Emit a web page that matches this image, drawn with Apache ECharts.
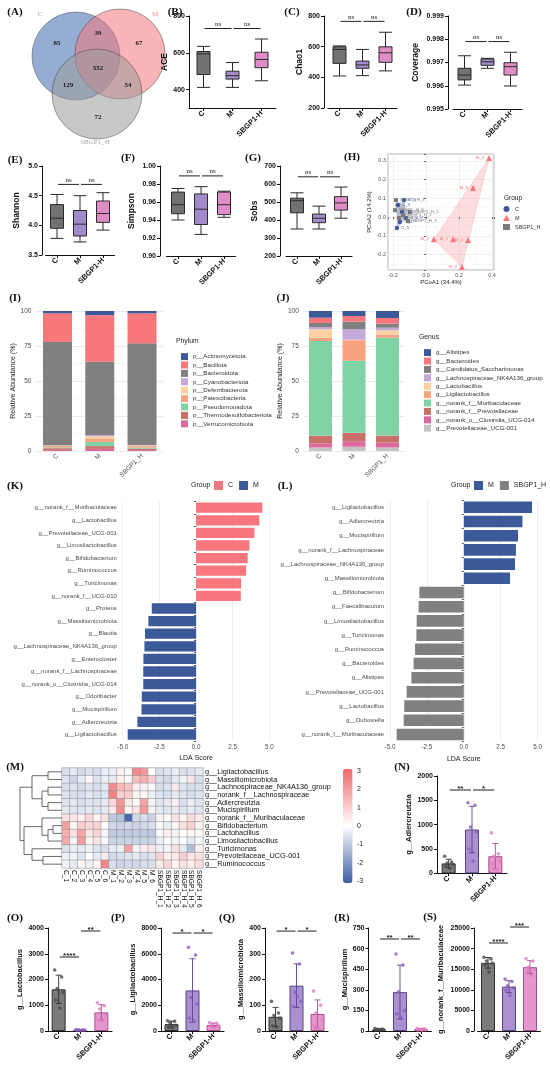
<!DOCTYPE html>
<html>
<head>
<meta charset="utf-8">
<script src="https://cdn.jsdelivr.net/npm/echarts@6/dist/echarts.min.js"></script>
<style>
  html, body { margin: 0; padding: 0; background: #fff; }
  #chart { width: 550px; height: 1065px; }
</style>
</head>
<body>
<div id="chart"></div>
<script>
// ---------- data ----------
const groups = ['C', 'M', 'SBGP1-H'];
const groupsU = ['C', 'M', 'SBGP1_H'];

// Venn: C only, C&M, M only, all three, C&S, M&S, S only
const vennCounts = [85, 39, 67, 552, 129, 54, 72];
const vennSets = ['C', 'M', 'SBGP1_H'];

// boxplots [min, Q1, median, Q3, max] for C, M, SBGP1-H
const aceBox = [[412, 482, 594, 607, 635], [412, 457, 476, 500, 547], [448, 519, 564, 603, 675]];
const chao1Box = [[409, 491, 582, 599, 605], [411, 459, 481, 506, 582], [442, 498, 560, 599, 694]];
const coverageBox = [[0.99603, 0.99625, 0.99646, 0.99675, 0.99729], [0.99675, 0.99688, 0.99703, 0.99715, 0.99718], [0.99599, 0.99646, 0.99682, 0.99699, 0.99744]];
const shannonBox = [[3.78, 3.95, 4.12, 4.35, 4.52], [3.72, 3.82, 4.02, 4.25, 4.50], [3.92, 4.05, 4.20, 4.41, 4.55]];
const simpsonBox = [[0.940, 0.947, 0.957, 0.971, 0.975], [0.924, 0.935, 0.952, 0.969, 0.977], [0.943, 0.946, 0.957, 0.971, 0.972]];
const sobsBox = [[350, 440, 507, 521, 551], [350, 385, 410, 433, 477], [410, 455, 495, 530, 583]];

// PCoA [PC1, PC2, sample]
const pcoaC = [[-0.17, 0.064, 'C_1'], [-0.145, 0.027, 'C_2'], [-0.158, -0.027, 'C_3'], [-0.121, -0.005, 'C_4'], [-0.176, -0.059, 'C_5'], [-0.133, 0.091, 'C_6']];
const pcoaM = [[0.164, -0.118, 'M_1'], [0.048, -0.118, 'M_2'], [0.218, -0.267, 'M_3'], [0.382, 0.316, 'M_4'], [0.255, -0.123, 'M_5'], [0.285, 0.155, 'M_6']];
const pcoaS = [[-0.164, -0.005, 'SBGP1_H_1'], [-0.139, 0.011, 'SBGP1_H_2'], [-0.109, -0.021, 'SBGP1_H_3'], [-0.182, 0.091, 'SBGP1_H_4'], [-0.097, 0.027, 'SBGP1_H_5'], [-0.188, 0.037, 'SBGP1_H_6']];

// relative abundance (%) per taxon: C, M, SBGP1_H
const phylumNames = ['p__Actinomycetota', 'p__Bacillota', 'p__Bacteroidota', 'p__Cyanobacteriota', 'p__Deferribacterota', 'p__Patescibacteria', 'p__Pseudomonadota', 'p__Thermodesulfobacteriota', 'p__Verrucomicrobiota'];
const phylumAbund = [[1.7, 3.0, 1.7], [20.4, 33.2, 21.4], [73.8, 52.5, 72.6], [0.3, 0.8, 0.3], [0.2, 1.5, 0.3], [1.0, 2.5, 1.2], [0.6, 3.0, 0.8], [1.2, 2.0, 1.0], [0.8, 1.5, 0.7]];
const genusNames = ['g__Alistipes', 'g__Bacteroides', 'g__Candidatus_Saccharimonas', 'g__Lachnospiraceae_NK4A136_group', 'g__Lactobacillus', 'g__Ligilactobacillus', 'g__norank_f__Muribaculaceae', 'g__norank_f__Prevotellaceae', 'g__norank_o__Clostridia_UCG-014', 'g__Prevotellaceae_UCG-001'];
const genusAbund = [[4.8, 3.6, 5.0], [3.8, 4.0, 4.0], [2.8, 5.5, 2.9], [1.7, 7.4, 1.9], [5.9, 0.3, 3.1], [2.4, 14.7, 2.1], [67.6, 51.5, 70.0], [5.5, 6.0, 5.0], [3.0, 4.0, 3.5], [2.5, 3.0, 2.5]];

// LEfSe
const ldaKNames = ['g__norank_f__Muribaculaceae', 'g__Lactobacillus', 'g__Prevotellaceae_UCG-001', 'g__Limosilactobacillus', 'g__Bifidobacterium', 'g__Ruminococcus', 'g__Turicimonas', 'g__norank_f__UCG-010', 'g__Proteus', 'g__Massiliomicrobiota', 'g__Blautia', 'g__Lachnospiraceae_NK4A136_group', 'g__Enterocloster', 'g__norank_f__Lachnospiraceae', 'g__norank_o__Clostridia_UCG-014', 'g__Odoribacter', 'g__Mucispirillum', 'g__Adlercreutzia', 'g__Ligilactobacillus'];
const ldaKScores = [4.52, 4.32, 3.98, 3.64, 3.52, 3.41, 3.07, 3.05, -3.02, -3.25, -3.48, -3.52, -3.59, -3.6, -3.6, -3.7, -3.72, -4.0, -4.66];
const ldaLNames = ['g__Ligilactobacillus', 'g__Adlercreutzia', 'g__Mucispirillum', 'g__norank_f__Lachnospiraceae', 'g__Lachnospiraceae_NK4A136_group', 'g__Massiliomicrobiota', 'g__Bifidobacterium', 'g__Faecalibaculum', 'g__Limosilactobacillus', 'g__Turicimonas', 'g__Ruminococcus', 'g__Bacteroides', 'g__Alistipes', 'g__Prevotellaceae_UCG-001', 'g__Lactobacillus', 'g__Dubosiella', 'g__norank_f__Muribaculaceae'];
const ldaLScores = [4.62, 3.97, 3.67, 3.53, 3.47, 3.13, -3.01, -3.06, -3.19, -3.21, -3.3, -3.4, -3.55, -3.87, -4.03, -4.07, -4.55];

// heatmap (z-score)
const heatRows = ['g__Ligilactobacillus', 'g__Massiliomicrobiota', 'g__Lachnospiraceae_NK4A136_group', 'g__norank_f__Lachnospiraceae', 'g__Adlercreutzia', 'g__Mucispirillum', 'g__norank_f__Muribaculaceae', 'g__Bifidobacterium', 'g__Lactobacillus', 'g__Limosilactobacillus', 'g__Turicimonas', 'g__Prevotellaceae_UCG-001', 'g__Ruminococcus'];
const heatCols = ['C_1', 'C_2', 'C_3', 'C_4', 'C_5', 'C_6', 'M_1', 'M_2', 'M_3', 'M_4', 'M_5', 'M_6', 'SBGP1_H_1', 'SBGP1_H_2', 'SBGP1_H_3', 'SBGP1_H_4', 'SBGP1_H_5', 'SBGP1_H_6'];
const heatZ = [
  [-0.6, -0.4, -0.7, -0.5, -0.6, -0.3, -0.3, 0.3, -0.1, 2.3, 2.0, 0.0, -0.6, -0.5, -0.3, -0.6, -0.5, -0.4],
  [-0.5, -0.8, -0.4, 0.1, -0.5, -0.3, -0.4, 0.3, -0.1, 1.3, 1.6, 1.0, -0.6, -0.7, -0.4, -0.2, 0.5, -0.6],
  [-0.6, -0.5, -0.7, -0.5, -0.6, -0.4, 2.3, 1.4, 1.2, 0.3, -0.2, -0.1, -0.6, -0.5, 0.4, -0.5, -0.6, -0.6],
  [-0.5, -0.6, -0.6, -0.4, -0.6, -0.5, 2.5, 0.9, 1.0, 0.2, 0.1, -0.3, -0.5, -0.6, -0.4, -0.5, -0.6, -0.5],
  [-0.5, -0.4, -0.6, -0.5, -0.5, -0.4, 0.8, 2.1, 0.4, 0.1, 1.8, -0.2, -0.5, -0.4, 0.3, -0.6, -0.3, -0.5],
  [-0.4, -0.5, -0.5, -0.4, -0.5, -0.4, 0.4, 2.3, 0.1, 0.6, 2.0, -0.2, -0.4, -0.5, -0.4, -0.5, -0.4, -0.5],
  [0.6, 0.5, 0.3, 0.8, 0.2, 0.6, -1.0, -1.1, -2.8, -0.7, -0.6, -0.8, 0.3, 0.1, 0.6, 0.2, 0.7, 0.4],
  [1.9, 0.2, 1.0, 0.8, 0.9, 0.0, -0.7, -0.8, -0.7, -0.8, -0.7, -0.6, 0.1, -0.3, 0.2, 0.6, 0.9, 0.2],
  [1.6, 0.6, 1.8, 0.5, 0.9, 0.2, -1.0, -1.0, -1.0, -1.0, -1.0, -1.0, -0.1, 0.3, -0.2, 0.0, 0.2, 0.1],
  [1.7, -0.2, 2.0, 0.2, 0.5, -0.1, -0.8, -0.8, -0.8, -0.8, -0.8, -0.8, -0.3, 0.1, -0.2, 0.0, -0.4, -0.1],
  [-0.5, -0.3, -0.4, -0.2, -0.5, -0.6, -0.4, -0.3, 1.9, -0.2, 0.3, 0.5, -0.3, -0.2, 0.6, -0.4, -1.2, 0.3],
  [-0.3, -0.2, -0.5, 0.0, -0.4, 0.4, -0.7, -0.6, -0.5, -0.4, -0.6, -0.5, 0.9, 0.3, 0.4, 1.0, 0.5, 0.6],
  [-0.2, -0.4, 0.1, -0.3, 0.1, 2.4, -0.6, -0.8, -0.7, -0.7, -0.6, -0.6, 0.4, 0.8, 0.2, 0.6, 0.3, 0.7]
];
// row clustering [height, left, right], leaves are row indexes
const dendroTree = [42, [30, [14, 0, 1], [20, [14, 2, 3], [14, 4, 5]]], [38, [20, 6, [14, [9, 7, 8], 9]], [30, 10, [19, 11, 12]]]];
const colorTicks = [3, 2, 1, 0, -1, -2, -3];

// per-sample abundances, C / M / SBGP1-H
const adlerPts = [[350, 230, 210, 180, 150, 100], [1450, 1400, 950, 850, 500, 250], [830, 400, 350, 250, 200, 80]];
const lactoPts = [[2370, 2100, 1650, 1500, 1200, 890], [60, 50, 45, 35, 30, 20], [1095, 980, 850, 600, 420, 400]];
const ligiPts = [[800, 750, 650, 450, 300, 250], [6500, 5900, 2600, 2100, 1000, 800], [650, 600, 500, 450, 350, 250]];
const massPts = [[115, 70, 60, 50, 20, 15], [303, 260, 150, 115, 95, 133], [155, 100, 70, 40, 20, 11]];
const muciPts = [[18, 15, 12, 10, 8, 5], [561, 480, 285, 150, 125, 97], [20, 16, 13, 10, 8, 6]];
const muribPts = [[17900, 17500, 17000, 16500, 16000, 14300], [12600, 12000, 11000, 10500, 9900, 8600], [17600, 17000, 15500, 15000, 14500, 13400]];

// ---------- styles ----------
const SANS = '"Liberation Sans", Arial, Helvetica, sans-serif';
const SERIF = '"Liberation Serif", "Times New Roman", serif';
const boxFill = ['#727272', '#A28ACB', '#E08DC7'];
const barFill = ['#7a7a7a', '#A990D0', '#E597CD'];
const barEdge = ['#2e2e2e', '#5b4286', '#a64f8e'];
const dotFill = ['#4a4a4a', '#8a5dbf', '#e37cc4'];
const jitter = [-4, 3, -1.5, 4.5, -3, 1];
const phylumColors = ['#3C5A9A', '#F7777B', '#808080', '#C3A8D8', '#FDD2A0', '#F9A27F', '#7FD3A5', '#C9706A', '#DB6B9C'];
const genusColors = ['#3C5A9A', '#F7777B', '#808080', '#C3A8D8', '#FDD2A0', '#F9A27F', '#7FD3A5', '#C9706A', '#DB6B9C', '#C4C4C4'];

const chart = echarts.init(document.getElementById('chart'), null, { renderer: 'canvas' });
const option = {
  animation: false, backgroundColor: '#ffffff', textStyle: { fontFamily: SANS },
  grid: [], xAxis: [], yAxis: [], series: [], legend: [], graphic: [], visualMap: []
};

function addGrid(l, t, w, h, extra) {
  option.grid.push(Object.assign({ left: l, top: t, width: w, height: h }, extra || {}));
  return option.grid.length - 1;
}

// GraphPad-like axes
function gpXAxis(gi) {
  return {
    gridIndex: gi, type: 'category', data: groups,
    axisLine: { show: true, lineStyle: { color: '#111', width: 1 } },
    axisTick: { show: true, alignWithLabel: true, length: 3, lineStyle: { color: '#111' } },
    axisLabel: { interval: 0, rotate: 45, fontSize: 7.5, fontWeight: 'bold', color: '#111', margin: 4, fontFamily: SANS },
    splitLine: { show: false }
  };
}
function gpYAxis(gi, p) {
  const ax = {
    gridIndex: gi, type: 'value', min: p.min, max: p.max, offset: p.offset || 0,
    name: p.name, nameLocation: 'middle', nameGap: p.nameGap,
    nameTextStyle: { fontSize: p.nameSize || 8.5, fontWeight: 'bold', color: '#111', fontFamily: SANS },
    axisLine: { show: true, lineStyle: { color: '#111', width: 1 } },
    axisTick: { show: true, length: 3, lineStyle: { color: '#111' } },
    axisLabel: { fontSize: 7, fontWeight: 'bold', color: '#111', margin: 4, fontFamily: SANS, formatter: p.fmt || (v => String(v)) },
    splitLine: { show: false }
  };
  if (p.interval) ax.interval = p.interval;
  if (p.ticks) { ax.axisLabel.customValues = p.ticks; ax.axisTick.customValues = p.ticks; }
  return ax;
}

function addBrackets(gi, list) {
  option.series.push({
    type: 'custom', xAxisIndex: gi, yAxisIndex: gi, z: 6, clip: false, silent: true,
    data: list.map(b => [b[0], b[1], b[2]]), encode: { x: [0, 1], y: 2 },
    renderItem: (params, api) => {
      const b = list[params.dataIndex];
      const p1 = api.coord([b[0], b[2]]), p2 = api.coord([b[1], b[2]]);
      const ns = b[3] === 'ns';
      return {
        type: 'group', children: [
          { type: 'line', shape: { x1: p1[0] + 1, y1: p1[1], x2: p2[0] - 1, y2: p2[1] }, style: { stroke: '#222', lineWidth: 1 } },
          { type: 'text', x: (p1[0] + p2[0]) / 2, y: p1[1] + (ns ? -1 : 2.5),
            style: { text: b[3], textAlign: 'center', textVerticalAlign: 'bottom', fontSize: ns ? 7 : 8, fontWeight: ns ? 'normal' : 'bold', fontFamily: ns ? SERIF : SANS, fill: '#222' } }
        ]
      };
    }
  });
}

function boxPanel(p) {
  const gi = addGrid(p.left, p.top, p.width, p.height);
  option.xAxis.push(gpXAxis(gi));
  option.yAxis.push(gpYAxis(gi, p));
  option.series.push({
    type: 'boxplot', xAxisIndex: gi, yAxisIndex: gi, boxWidth: [13, 13], z: 3,
    data: p.data.map((d, i) => ({ value: d, itemStyle: { color: boxFill[i], borderColor: '#2a2a2a', borderWidth: 1 } }))
  });
  addBrackets(gi, p.brackets);
}

function barPanel(p) {
  const gi = addGrid(p.left, p.top, p.width, p.height);
  option.xAxis.push(gpXAxis(gi));
  option.yAxis.push(gpYAxis(gi, p));
  const means = p.pts.map(a => a.reduce((s, v) => s + v, 0) / a.length);
  const sds = p.pts.map((a, i) => Math.sqrt(a.reduce((s, v) => s + (v - means[i]) ** 2, 0) / (a.length - 1)));
  option.series.push({
    type: 'bar', xAxisIndex: gi, yAxisIndex: gi, barWidth: 14, z: 2,
    data: means.map((m, i) => ({ value: m, itemStyle: { color: barFill[i], borderColor: barEdge[i], borderWidth: 1 } }))
  });
  option.series.push({
    type: 'custom', xAxisIndex: gi, yAxisIndex: gi, z: 4, silent: true,
    data: means.map((m, i) => [i, m]),
    renderItem: (params, api) => {
      const i = params.dataIndex;
      const top = api.coord([i, means[i] + sds[i]]);
      const bot = api.coord([i, Math.max(means[i] - sds[i], p.min)]);
      const cx = top[0], st = { stroke: barEdge[i], lineWidth: 0.9 };
      return {
        type: 'group', children: [
          { type: 'line', shape: { x1: cx, y1: top[1], x2: cx, y2: bot[1] }, style: st },
          { type: 'line', shape: { x1: cx - 3, y1: top[1], x2: cx + 3, y2: top[1] }, style: st },
          { type: 'line', shape: { x1: cx - 3, y1: bot[1], x2: cx + 3, y2: bot[1] }, style: st }
        ]
      };
    }
  });
  const pts = [];
  p.pts.forEach((arr, g) => arr.forEach((v, k) => pts.push({ value: [g, v], symbolOffset: [jitter[k], 0], itemStyle: { color: dotFill[g] } })));
  option.series.push({ type: 'scatter', xAxisIndex: gi, yAxisIndex: gi, symbolSize: 3.6, z: 5, data: pts });
  addBrackets(gi, p.brackets);
}

function stackPanel(p) {
  const gi = addGrid(p.left, 311, p.width, 140);
  option.xAxis.push({
    gridIndex: gi, type: 'category', data: groupsU,
    axisLine: { show: false }, axisTick: { show: false },
    axisLabel: { interval: 0, rotate: 45, fontSize: 6.5, color: '#4d4d4d', margin: 4 }
  });
  option.yAxis.push({
    gridIndex: gi, type: 'value', min: 0, max: 100, interval: 25,
    name: 'Relative Abundance (%)', nameLocation: 'middle', nameGap: 17,
    nameTextStyle: { fontSize: 7, color: '#222' },
    axisLine: { show: false }, axisTick: { show: false },
    axisLabel: { fontSize: 6.5, color: '#4d4d4d', margin: 5 },
    splitLine: { lineStyle: { color: '#e4e4e4', width: 0.8 } },
    minorTick: { show: true, splitNumber: 2, length: 0 },
    minorSplitLine: { show: true, lineStyle: { color: '#f2f2f2', width: 0.6 } }
  });
  for (let k = p.names.length - 1; k >= 0; k--) {
    option.series.push({
      type: 'bar', name: p.tag + p.names[k], stack: p.tag, xAxisIndex: gi, yAxisIndex: gi,
      barWidth: p.barWidth, data: p.values[k], itemStyle: { color: p.colors[k] }
    });
  }
  option.legend.push({
    left: p.legendLeft, top: p.legendTop, orient: 'vertical', selectedMode: false,
    itemWidth: 7, itemHeight: 7, itemGap: 1.2, icon: 'rect',
    textStyle: { fontSize: 6.2, color: '#333', lineHeight: 7.2 },
    data: p.names.map(n => p.tag + n), formatter: n => n.slice(p.tag.length)
  });
  option.graphic.push({ type: 'text', left: p.legendLeft, top: p.legendTop - 10, style: { text: p.title, fontSize: 6.8, fill: '#222', fontFamily: SANS } });
}

function ldaPanel(p) {
  const gi = addGrid(p.left, p.top, p.width, p.height);
  option.xAxis.push({
    gridIndex: gi, type: 'value', min: -5.2, max: 5.2,
    name: 'LDA Score', nameLocation: 'middle', nameGap: 14, nameTextStyle: { fontSize: 7, color: '#222' },
    axisLine: { show: false }, axisTick: { show: false, customValues: [-5, -2.5, 0, 2.5, 5] },
    axisLabel: { fontSize: 6.3, color: '#4d4d4d', margin: 3, formatter: v => v.toFixed(1), customValues: [-5, -2.5, 0, 2.5, 5] },
    splitLine: { show: true, lineStyle: { color: '#ebebeb', width: 0.8 } }
  });
  option.yAxis.push({
    gridIndex: gi, type: 'category', data: p.names, inverse: true,
    axisLine: { show: false }, axisTick: { show: true, length: 2, lineStyle: { color: '#555' } },
    axisLabel: { interval: 0, fontSize: 6, color: '#4d4d4d', margin: 3 }
  });
  const g = p.groups;
  option.series.push({ type: 'bar', name: p.tag + g[0], stack: p.tag, xAxisIndex: gi, yAxisIndex: gi, barCategoryGap: '18%',
    data: p.scores.map(s => s > 0 ? s : '-'), itemStyle: { color: p.colors[0] } });
  option.series.push({ type: 'bar', name: p.tag + g[1], stack: p.tag, xAxisIndex: gi, yAxisIndex: gi, barCategoryGap: '18%',
    data: p.scores.map(s => s < 0 ? s : '-'), itemStyle: { color: p.colors[1] } });
  option.legend.push({
    left: p.legendLeft, top: 481, width: 90, padding: 0, orient: 'horizontal', selectedMode: false,
    itemWidth: 9, itemHeight: 9, itemGap: 6, icon: 'rect', textStyle: { fontSize: 7, color: '#222' },
    data: g.map(n => p.tag + n), formatter: n => n.slice(p.tag.length)
  });
  option.graphic.push({ type: 'text', left: p.legendLeft - 23, top: 482, style: { text: 'Group', fontSize: 7, fill: '#222', fontFamily: SANS } });
}

// ---------- (A) Venn ----------
const vennCircles = [[76, 56, 44, '#3F6AAE'], [120, 54, 45, '#F4777C'], [97, 94, 45, '#9A9A9A']];
vennCircles.forEach(c => option.graphic.push({
  type: 'circle', shape: { cx: c[0], cy: c[1], r: c[2] },
  style: { fill: c[3], opacity: 0.55, stroke: '#333', lineWidth: 0.8 }
}));
const vennTextPos = [[57, 43], [98, 33], [139, 43], [98, 68], [68, 85], [128, 85], [98, 117]];
vennCounts.forEach((n, i) => option.graphic.push({
  type: 'text', x: vennTextPos[i][0], y: vennTextPos[i][1],
  style: { text: String(n), textAlign: 'center', textVerticalAlign: 'middle', fontSize: 7, fontWeight: 'bold', fontFamily: SERIF, fill: '#1a1a1a' }
}));
[[40, 14, '#7E9DCC'], [155, 14, '#F28B8E'], [95, 142, '#A8A8A8']].forEach((s, i) => option.graphic.push({
  type: 'text', x: s[0], y: s[1], style: { text: vennSets[i], textAlign: 'center', textVerticalAlign: 'middle', fontSize: 7, fontFamily: SERIF, fill: s[2] }
}));

// ---------- (B)-(G) alpha diversity ----------
boxPanel({ left: 189, top: 16, width: 87, height: 92, min: 300, max: 800, ticks: [400, 600, 800], name: 'ACE', nameGap: 19, data: aceBox, brackets: [[0, 1, 732, 'ns'], [1, 2, 732, 'ns']] });
boxPanel({ left: 328, top: 16, width: 69, height: 92, min: 200, max: 800, interval: 200, offset: 4, name: 'Chao1', nameGap: 19, data: chao1Box, brackets: [[0, 1, 765, 'ns'], [1, 2, 765, 'ns']] });
boxPanel({ left: 453, top: 16, width: 69, height: 93, min: 0.995, max: 0.999, interval: 0.001, offset: 5, fmt: v => v.toFixed(3), name: 'Coverage', nameGap: 28, data: coverageBox, brackets: [[0, 1, 0.9979, 'ns'], [1, 2, 0.9979, 'ns']] });
boxPanel({ left: 45.5, top: 166, width: 69, height: 89, min: 3.5, max: 5.0, interval: 0.5, offset: 3.5, fmt: v => v.toFixed(1), name: 'Shannon', nameGap: 21, data: shannonBox, brackets: [[0, 1, 4.69, 'ns'], [1, 2, 4.69, 'ns']] });
boxPanel({ left: 166.5, top: 166, width: 69, height: 90, min: 0.90, max: 1.00, interval: 0.02, offset: 6.5, fmt: v => v.toFixed(2), name: 'Simpson', nameGap: 24, data: simpsonBox, brackets: [[0, 1, 0.989, 'ns'], [1, 2, 0.989, 'ns']] });
boxPanel({ left: 286, top: 166, width: 66, height: 90, min: 200, max: 700, interval: 100, offset: 6, name: 'Sobs', nameGap: 21, data: sobsBox, brackets: [[0, 1, 640, 'ns'], [1, 2, 640, 'ns']] });

// ---------- (H) PCoA ----------
{
  const gi = addGrid(388, 154, 106, 116, { show: true, borderColor: '#9a9a9a', borderWidth: 0.8 });
  const axCommon = {
    gridIndex: gi, type: 'value', axisLine: { show: false },
    axisTick: { show: true, length: 2, lineStyle: { color: '#666' } },
    axisLabel: { fontSize: 5.5, color: '#555', margin: 2, showMinLabel: false, showMaxLabel: false, formatter: v => v.toFixed(1) },
    splitLine: { lineStyle: { color: '#e6e6e6', width: 0.6 } },
    minorTick: { show: true, splitNumber: 2, length: 0 },
    minorSplitLine: { show: true, lineStyle: { color: '#f3f3f3', width: 0.5 } },
    nameLocation: 'middle', nameTextStyle: { fontSize: 6, color: '#222' }
  };
  option.xAxis.push(Object.assign({}, axCommon, { min: -0.23, max: 0.412, splitNumber: 3, name: 'PCoA1 (34.4%)', nameGap: 9 }));
  option.yAxis.push(Object.assign({}, axCommon, { min: -0.283, max: 0.337, splitNumber: 5, name: 'PCoA2 (14.2%)', nameGap: 14 }));
  const hull = pts => {
    const p = pts.map(d => [d[0], d[1]]).sort((a, b) => a[0] - b[0] || a[1] - b[1]);
    const cross = (o, a, b) => (a[0] - o[0]) * (b[1] - o[1]) - (a[1] - o[1]) * (b[0] - o[0]);
    const lo = [], up = [];
    p.forEach(q => { while (lo.length >= 2 && cross(lo[lo.length - 2], lo[lo.length - 1], q) <= 0) lo.pop(); lo.push(q); });
    p.slice().reverse().forEach(q => { while (up.length >= 2 && cross(up[up.length - 2], up[up.length - 1], q) <= 0) up.pop(); up.push(q); });
    return lo.slice(0, -1).concat(up.slice(0, -1));
  };
  const groupsH = [[pcoaC, '#3C5A9A', 'circle', 4.5, 'right'], [pcoaM, '#F7777B', 'triangle', 6, 'left'], [pcoaS, '#7a7a7a', 'rect', 4, 'right']];
  groupsH.forEach((g, k) => {
    const h = hull(g[0]);
    option.series.push({
      type: 'custom', name: 'hull' + k, xAxisIndex: gi, yAxisIndex: gi, z: 1, silent: true,
      data: [[h[0][0], h[0][1]]],
      renderItem: (params, api) => ({
        type: 'polygon', shape: { points: h.map(q => api.coord(q)) },
        style: { fill: g[1], opacity: 0.25, stroke: g[1], lineWidth: 0.8 }
      })
    });
  });
  groupsH.forEach((g, k) => {
    option.series.push({
      type: 'scatter', name: 'H:' + groupsU[k], xAxisIndex: gi, yAxisIndex: gi, z: 3,
      symbol: g[2], symbolSize: g[3], itemStyle: { color: g[1], opacity: 1 },
      data: g[0].map(d => ({ value: [d[0], d[1]], name: d[2] })),
      label: { show: true, formatter: '{b}', position: g[4], distance: 2, fontSize: 4.3, color: g[1] }
    });
  });
  option.legend.push({
    left: 503, top: 206, padding: 0, orient: 'vertical', selectedMode: false, itemWidth: 7, itemHeight: 6, itemGap: 3,
    textStyle: { fontSize: 5.5, color: '#333' }, data: groupsU.map(n => 'H:' + n), formatter: n => n.slice(2)
  });
  option.graphic.push({ type: 'text', left: 504, top: 195, style: { text: 'Group', fontSize: 6.5, fill: '#222', fontFamily: SANS } });
}

// ---------- (I)/(J) composition ----------
stackPanel({ tag: 'I:', left: 36.4, width: 126.75, barWidth: 29, names: phylumNames, values: phylumAbund, colors: phylumColors, legendLeft: 176, legendTop: 348, title: 'Phylum' });
stackPanel({ tag: 'J:', left: 303.75, width: 100.5, barWidth: 23, names: genusNames, values: genusAbund, colors: genusColors, legendLeft: 419, legendTop: 344, title: 'Genus' });

// ---------- (K)/(L) LEfSe ----------
ldaPanel({ tag: 'K:', left: 119.8, top: 501.4, width: 152.5, height: 239.4, names: ldaKNames, scores: ldaKScores, groups: ['C', 'M'], colors: ['#F8767D', '#3C5A9A'], legendLeft: 214 });
ldaPanel({ tag: 'L:', left: 387, top: 500.2, width: 153.6, height: 241.4, names: ldaLNames, scores: ldaLScores, groups: ['M', 'SBGP1_H'], colors: ['#3C5A9A', '#808080'], legendLeft: 474 });

// ---------- (M) heatmap ----------
{
  const gi = addGrid(62, 768, 141, 100);
  option.xAxis.push({
    gridIndex: gi, type: 'category', data: heatCols, position: 'bottom',
    axisLine: { show: false }, axisTick: { show: false },
    axisLabel: { interval: 0, rotate: -90, fontSize: 6.6, color: '#111', margin: 2 }
  });
  option.yAxis.push({
    gridIndex: gi, type: 'category', data: heatRows, position: 'right', inverse: true,
    axisLine: { show: false }, axisTick: { show: false },
    axisLabel: { interval: 0, fontSize: 7.3, color: '#111', margin: 2 }
  });
  const data = [];
  heatZ.forEach((row, r) => row.forEach((z, c) => data.push([c, r, z])));
  option.series.push({
    type: 'heatmap', xAxisIndex: gi, yAxisIndex: gi, data: data,
    itemStyle: { borderColor: '#8c8c8c', borderWidth: 0.5 }
  });
  option.visualMap.push({
    type: 'continuous', min: -3, max: 3, seriesIndex: option.series.length - 1, dimension: 2,
    inRange: { color: ['#3B5EA6', '#ffffff', '#F0686B'] },
    left: 343, top: 769, itemWidth: 9.5, itemHeight: 114, padding: 0,
    calculable: false, hoverLink: false, text: null, showLabel: false, textStyle: { fontSize: 0 }
  });
  colorTicks.forEach(v => option.graphic.push({
    type: 'text', x: 357, y: 826 - v * 18.3,
    style: { text: String(v), textVerticalAlign: 'middle', fontSize: 7, fill: '#222', fontFamily: SANS }
  }));

  // dendrogram
  const dg = addGrid(20, 768, 42, 100);
  option.xAxis.push({ gridIndex: dg, type: 'value', min: 0, max: 42, inverse: true, show: false });
  option.yAxis.push({ gridIndex: dg, type: 'value', min: -0.5, max: heatRows.length - 0.5, inverse: true, show: false });
  const segs = [];
  const walk = node => {
    if (typeof node === 'number') return { y: node, h: 0 };
    const a = walk(node[1]), b = walk(node[2]);
    segs.push({ coords: [[a.h, a.y], [node[0], a.y], [node[0], b.y], [b.h, b.y]] });
    return { y: (a.y + b.y) / 2, h: node[0] };
  };
  walk(dendroTree);
  option.series.push({
    type: 'lines', coordinateSystem: 'cartesian2d', xAxisIndex: dg, yAxisIndex: dg, polyline: true, silent: true,
    lineStyle: { color: '#444', width: 0.8, opacity: 1 }, data: segs
  });
}

// ---------- (N)-(S) bar plots ----------
barPanel({ left: 437, top: 776, width: 70, height: 97.3, min: 0, max: 2000, interval: 500, name: 'g__Adlercreutzia', nameGap: 24, nameSize: 7.5, pts: adlerPts, brackets: [[0, 1, 1712, '**'], [1, 2, 1712, '*']] });
barPanel({ left: 48, top: 928, width: 64, height: 103, min: 0, max: 4000, interval: 1000, name: 'g__Lactobacillus', nameGap: 24, nameSize: 7.5, pts: lactoPts, brackets: [[0, 1, 2874, '****'], [1, 2, 3883, '**']] });
barPanel({ left: 161, top: 928, width: 63, height: 103, min: 0, max: 8000, interval: 2000, name: 'g__Ligilactobacillus', nameGap: 24, nameSize: 7.5, pts: ligiPts, brackets: [[0, 1, 7612, '*'], [1, 2, 7612, '*']] });
barPanel({ left: 265, top: 928, width: 63, height: 103, min: 0, max: 400, interval: 100, name: 'g__Massiliomicrobiota', nameGap: 20, nameSize: 7.5, pts: massPts, brackets: [[0, 1, 388, '*'], [1, 2, 388, '*']] });
barPanel({ left: 368.5, top: 928, width: 63, height: 103, min: 0, max: 750, interval: 150, name: 'g__Mucispirillum', nameGap: 20, nameSize: 7.5, pts: muciPts, brackets: [[0, 1, 670, '**'], [1, 2, 670, '**']] });
barPanel({ left: 477.5, top: 928, width: 63, height: 103, min: 0, max: 25000, interval: 5000, offset: 3.5, name: 'g__norank_f__Muribaculaceae', nameGap: 29, nameSize: 7.5, pts: muribPts, brackets: [[0, 1, 21360, '****'], [1, 2, 25240, '***']] });

// ---------- panel letters ----------
const panelLetters = [['(A)', 15, 12], ['(B)', 175, 12], ['(C)', 292, 12], ['(D)', 414, 12], ['(E)', 15, 160], ['(F)', 128, 158], ['(G)', 253, 158], ['(H)', 352, 157], ['(I)', 15, 298], ['(J)', 283, 298], ['(K)', 15, 486], ['(L)', 285, 486], ['(M)', 15, 767], ['(N)', 402, 767], ['(O)', 15, 918], ['(P)', 118, 918], ['(Q)', 227, 918], ['(R)', 342, 918], ['(S)', 430, 917]];
panelLetters.forEach(l => option.graphic.push({
  type: 'text', x: l[1], y: l[2], z: 100,
  style: { text: l[0], textAlign: 'center', textVerticalAlign: 'middle', fontSize: 11, fontWeight: 'bold', fontFamily: SERIF, fill: '#111' }
}));

chart.setOption(option);
</script>
</body>
</html>
